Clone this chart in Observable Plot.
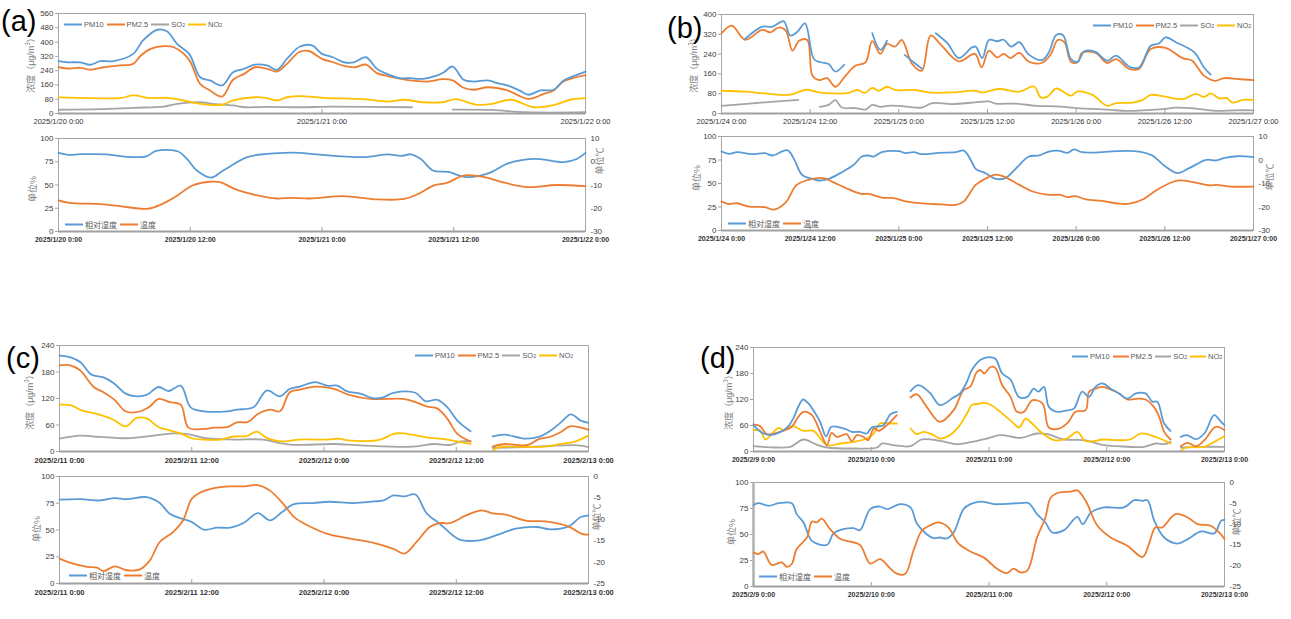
<!DOCTYPE html>
<html><head><meta charset="utf-8">
<script src="https://cdn.jsdelivr.net/npm/d3@7"></script>
<script src="https://cdn.jsdelivr.net/npm/@observablehq/plot@0.6"></script>
<style>
body{margin:0;background:#fff;}
#root{position:relative;width:1291px;height:619px;overflow:hidden;background:#fff;font-family:'Liberation Sans','Noto Sans CJK SC',sans-serif;}
.lg{position:absolute;display:flex;align-items:center;font-size:7.5px;color:#595959;white-space:nowrap;transform:translateY(-50%);}
.lg.cn{font-size:8px;}
.lg .sw{display:inline-block;height:0;border-top:2px solid;margin-right:2px;}
.lg .it{display:flex;align-items:center;margin-right:3px;}
.vt{position:absolute;transform:translate(-50%,-50%) rotate(-90deg);white-space:nowrap;color:#7f7f7f;font-size:9px;line-height:1;}
.pl{position:absolute;font-size:29px;color:#000;line-height:1;}
sub{font-size:0.7em;vertical-align:-0.25em;line-height:0;}
</style></head><body><div id="root"></div><script>
// ---------- data: [hour offset from panel start, value] ; null = gap ----------
// Panel (a) 2025/1/20 0:00 – 2025/1/22 0:00
const a_pm10 = [[0,293],[0.8,287],[2,286],[2.9,273],[3.8,293],[5,293],[6.8,334],[7.7,409],[9,469],[9.9,459],[10.8,390],[11.9,334],[12.9,203],[13.8,185],[14.9,157],[15.9,231],[16.9,250],[17.9,274],[19,269],[19.9,245],[20.8,306],[22,375],[23.1,381],[24,334],[25,315],[26,287],[26.9,286],[28,315],[29,250],[29.9,222],[31.1,198],[32,198],[33.2,194],[34.5,213],[35.1,231],[35.9,263],[36.9,189],[37.8,179],[39.1,185],[40,170],[41.2,151],[42.1,125],[42.8,105],[43.9,129],[45.1,133],[46,185],[46.9,209],[48,235]];
const a_pm25 = [[0,259],[1,252],[2,256],[2.9,245],[4.1,259],[5.6,269],[6.8,278],[7.5,325],[8.4,362],[9.6,377],[10.5,371],[11.4,335],[12,290],[12.9,166],[13.8,129],[14.9,95],[15.9,189],[16.9,222],[17.9,259],[19,250],[19.9,235],[20.8,278],[21.9,343],[22.8,350],[24,306],[25,287],[26.1,265],[27,259],[28,274],[29,226],[30.2,207],[32,185],[33.6,179],[35,192],[35.9,185],[36.9,144],[37.8,133],[39.1,147],[40.9,129],[42.8,82],[44.2,110],[45.1,129],[46,179],[48,215]];
const a_so2 = [[0,21],[3.8,24],[6.8,32],[9.6,39],[10.8,54],[12.9,63],[14.1,54],[15.9,45],[17,35],[19,37],[22,35],[25,38],[32.2,35],[32.3,null],[35.9,22],[39.5,20],[42.6,7],[48,7]];
const a_no2 = [[0,90],[3,86],[5.6,86],[6.8,101],[8.4,86],[9.9,88],[11.1,77],[12.9,54],[14.9,49],[15.9,73],[17.9,91],[19,86],[19.9,73],[20.8,91],[22,97],[24.1,88],[27.8,80],[30,67],[31.5,77],[33.1,63],[35,63],[36.2,80],[38,50],[39.5,54],[41.2,77],[43.3,35],[45.1,47],[46.6,77],[48,86]];
const a_rh = [[0,84.6],[0.9,82.5],[2,83.1],[4.4,83],[6.2,80.3],[8,80.9],[8.9,86.7],[10.9,86],[11.7,78],[12.6,65.6],[13.9,58],[15,65.6],[17.2,80],[19,83.5],[20.5,84.6],[22,84.6],[23.5,83],[27.8,80],[30,83],[31.2,81.3],[32.1,83],[33,78],[34.1,65.6],[35.5,64],[37.2,58.5],[39.2,62.7],[41,73.5],[43.5,78],[46,74.6],[47.2,78],[48,84.6]];
const a_temp = [[0,-16.6],[1,-17.7],[3.8,-18.2],[5.6,-19.1],[7.5,-20.2],[8.4,-20],[9.6,-17.8],[10.8,-14.6],[12.2,-10.2],[13.8,-8.6],[14.7,-8.8],[16.2,-12],[17.7,-14],[19.9,-15.8],[21.1,-15.5],[22.9,-15.8],[25.9,-14.8],[29,-16.2],[31.5,-16],[32.7,-14],[34.2,-10.2],[35.3,-9.2],[37,-5.9],[38.8,-6.6],[40.6,-9],[42.8,-10.9],[45.3,-10],[48,-10.5]];

// Panel (b) 2025/1/24 0:00 – 2025/1/27 0:00
const b_pm10 = [[3.2,301],[5.5,351],[6.9,351],[8.4,373],[9.3,315],[10.2,328],[11.3,364],[12.5,220],[13.4,207],[14.5,200],[15.4,169],[16.6,197],[16.7,null],[20.4,325],[21.5,257],[22.4,294],[22.5,null],[24.8,237],[26,207],[27.1,182],[27.2,null],[29,324],[30.6,283],[32.1,224],[33.9,267],[34.4,270],[35.3,224],[36.2,297],[37.3,292],[38.2,298],[39.2,270],[40.3,288],[41.6,238],[43.4,216],[44.3,247],[45.3,317],[46.2,317],[47.3,220],[48.2,209],[49.1,251],[50.6,249],[52.2,213],[53.4,234],[55.2,189],[56.5,186],[58.1,274],[59.2,283],[60.1,308],[61.5,288],[64,247],[65.3,186],[66.2,157]];
const b_pm25 = [[0,324],[1.4,355],[3.2,298],[5.5,338],[6.6,328],[7.8,348],[8.7,335],[9.6,254],[10.5,294],[11.6,297],[12.3,153],[13.2,135],[14.3,143],[15.4,108],[16.8,153],[18.1,193],[19.5,207],[20.4,292],[21.5,241],[22.4,281],[23.5,270],[24.4,297],[25.8,200],[27.1,173],[28.3,315],[29.8,274],[32.1,211],[34.3,241],[35.2,186],[36.2,254],[37.3,227],[38.2,241],[39.1,224],[40.3,245],[41.6,209],[43.4,205],[44.6,241],[45.5,297],[46.4,288],[47.3,209],[48.2,207],[48.8,245],[50.6,245],[52.2,204],[53.4,220],[55.2,180],[56.5,180],[58.1,261],[60.1,265],[62.4,224],[63.7,213],[65.3,153],[66.8,132],[68,143],[70,139],[72,135]];
const b_so2 = [[0,31],[5.9,45],[10.4,55],[10.5,null],[13.3,27],[14.5,35],[15.4,54],[16.3,24],[18.1,22],[19.5,16],[20.4,35],[21.5,27],[22.4,31],[24,31],[27.1,24],[28.5,42],[31.2,38],[34.3,45],[36.2,49],[37.1,40],[39.9,40],[42.6,31],[45.3,29],[48,22],[52.5,15],[54.8,11],[59.7,18],[61.5,24],[64.2,20],[66.8,11],[69.5,13],[72,13]];
const b_no2 = [[0,92],[3.2,88],[5.9,81],[9.3,76],[11.4,96],[13.2,85],[15,81],[17.2,83],[18.4,95],[19.4,83],[20.4,103],[21.3,92],[22.4,108],[23.5,95],[26.2,95],[28,85],[31.2,85],[34.3,92],[35.3,85],[37.5,99],[40.3,88],[42.3,109],[43.2,65],[44.1,68],[45.3,101],[47.3,72],[48.2,89],[50.2,75],[52.2,31],[53.4,42],[55.6,44],[57,55],[58.1,75],[59.9,69],[62.4,58],[64.2,79],[65.3,67],[66.2,81],[67.4,61],[68.3,63],[69.2,44],[70.5,55],[72,55]];
const b_rh = [[0,84],[1,81.6],[2.1,83.3],[4.1,81.2],[5.9,82.3],[6.9,79.8],[8.9,85.5],[9.8,76.2],[10.9,59.2],[12.3,55],[13.2,53.2],[14.5,55],[16.3,62],[17.9,69.9],[19,78.7],[19.9,79.8],[20.6,78.7],[21.7,83.3],[24,84.4],[24.9,82.3],[26,83.3],[27.1,81.2],[29.4,82.6],[31.7,83.3],[32.8,85],[33.9,72.7],[34.4,65.6],[35.7,61],[37.1,55],[38.4,55.7],[39.8,65.6],[41.6,78.7],[43,79.8],[44.3,84],[45.7,84.8],[46.8,82.6],[47.7,86.2],[48.8,83.3],[51.5,83.3],[53.4,84.4],[56.5,84],[58.3,79.8],[59.9,69.1],[61.7,61],[63.3,66.3],[65.6,75.2],[66.9,74.5],[68.1,77.3],[69.9,79],[72,78]];
const b_temp = [[0,-17.6],[1,-18.8],[2.1,-18.4],[3.7,-19.8],[5.9,-20.1],[7.1,-21.1],[8.7,-18],[10.1,-10.8],[11.5,-8.7],[13.8,-7.7],[15.1,-9.4],[17.1,-12.3],[18.9,-14.4],[19.9,-14.4],[21.7,-16],[23.3,-16.2],[24.9,-17.6],[27.6,-18.6],[29.8,-18.9],[31.7,-19.1],[32.8,-17.6],[34.4,-10.6],[35.7,-8],[37.1,-6.2],[38.4,-7.3],[40.3,-10.6],[42.1,-13.4],[44.3,-14.8],[45.9,-14.8],[46.8,-15.8],[47.9,-15.4],[49.3,-16.8],[51.5,-17.4],[53.8,-18.6],[55.2,-18.6],[57,-16.8],[58.8,-13],[60.4,-10.2],[62,-8.7],[63.8,-9.4],[66.1,-10.8],[67,-10.6],[68.8,-11.3],[72,-11.3]];

// Panel (c) 2025/2/11 0:00 – 2025/2/13 0:00
const c_pm10 = [[0,217],[1,213],[1.9,202],[2.9,174],[4,168],[4.9,155],[6,131],[7,125],[7.9,128],[9,146],[9.9,137],[11,149],[11.9,100],[13.1,91],[15.2,91],[16.1,95],[17.6,100],[18.8,138],[20,125],[20.9,142],[21.8,147],[23.2,157],[24.3,149],[25.2,149],[26.1,136],[27.3,131],[28.4,121],[29.3,122],[30.3,133],[32.3,133],[33.2,114],[34.3,117],[35.2,100],[36.1,70],[37.3,46],[37.4,null],[39.3,34],[40.4,38],[42.3,29],[43.7,35],[44.6,48],[45.5,66],[46.4,84],[47.3,70],[48,65]];
const c_pm25 = [[0,195],[1,195],[1.9,183],[3.1,146],[4,134],[5,117],[6,91],[7,89],[8.1,100],[9,119],[10,112],[11,106],[11.7,54],[13.1,51],[14,54],[15.2,55],[16.1,66],[17.1,67],[18,85],[19.1,95],[20,91],[20.9,134],[21.8,140],[23.2,147],[24.9,142],[26.2,129],[28.2,119],[31.2,119],[32.3,112],[33.3,102],[34.3,97],[35.2,74],[36.1,40],[37.3,23],[37.4,null],[39.3,11],[40.4,17],[41.4,15],[42.5,15],[43.4,27],[44.6,34],[45.5,44],[46.3,57],[47.3,54],[48,49]];
const c_so2 = [[0,29],[1.9,36],[3.7,33],[6.1,30],[8.2,35],[10.3,41],[11.5,40],[13.3,30],[15.8,27],[18.5,27],[20,19],[21.2,15],[24.9,17],[27.3,14],[32.1,11],[34,17],[35.5,15],[36.4,23],[37.3,23],[37.4,null],[39.3,8],[42.5,10],[47,14],[48,10]];
const c_no2 = [[0,106],[1,105],[2,93],[3.4,85],[4.9,72],[6,57],[7,76],[7.9,75],[9,55],[10,48],[11,41],[12,30],[13.1,27],[14.6,27],[15.8,34],[17,35],[17.9,45],[18.8,31],[20,23],[21.8,27],[24.3,27],[25.3,29],[26.2,25],[29.1,27],[30.3,40],[31.2,41],[33.3,32],[35.2,27],[37.3,17],[37.4,null],[39.3,2],[39.9,10],[41.3,11],[44,11],[45.5,17],[46.7,22],[48,36]];
const c_rh = [[0,78.3],[1.9,78.9],[3.7,77.6],[5,79.8],[6.1,78.9],[7.9,80.7],[9.1,75.2],[10,65.2],[11.1,60.6],[12,57.5],[13.1,50.3],[14.3,52.2],[15.5,52.2],[16.7,56.5],[18,65.8],[19.1,59],[20.2,66.8],[21.2,73.9],[23,75.2],[24.5,76.4],[26.7,75.2],[28.5,76.7],[29.4,77.6],[30.3,82.3],[31.3,81.4],[32.3,83.2],[33.3,65.8],[34.5,55.9],[36.3,41],[38.1,40.4],[39.6,45],[41.4,51.2],[43.3,52.8],[44.5,50.6],[46.2,53.4],[47.3,62.1],[48,63.7]];
const c_temp = [[0,-19.2],[1,-20.2],[2.5,-21.1],[3.4,-21.3],[4,-22.1],[5,-21],[6.1,-21.9],[7.3,-21.7],[8.2,-19.6],[9.1,-15.3],[10.3,-13],[11.2,-10.3],[12,-5.2],[12.8,-3.7],[14,-2.7],[15.5,-2.3],[16.8,-2.3],[18,-2],[19.1,-3.3],[20.3,-6.4],[21.3,-9.5],[22.5,-11.4],[24.3,-13.4],[26.4,-14.5],[28.5,-15.5],[30.3,-16.9],[31.3,-18],[32.4,-15.3],[33.6,-11.8],[34.5,-10.9],[35.4,-10.9],[36.9,-9.1],[38.3,-7.9],[39.3,-8.6],[40.5,-8.9],[42.3,-10.3],[44.1,-10.5],[46.2,-11.7],[47.4,-13.4],[48,-13.6]];

// Panel (d) 2025/2/9 0:00 – 2025/2/13 0:00
const d_pm10 = [[0,60.8],[2,41.5],[4.1,39.2],[6.8,55],[8.1,76],[9.2,105],[10.1,120],[11.1,112],[12.2,95],[13.6,68],[14.8,35],[15.9,57],[19,50.8],[20,45.4],[21.7,45.4],[23.1,41.5],[24.1,55.4],[26.5,60.8],[27.9,86],[29.2,91.5],[29.3,null],[32,139],[33.6,153],[36,135],[38,107],[40.8,125],[42.1,134],[43.5,161],[44.5,188],[46.3,212],[48,218],[49.3,214],[50.7,180],[52.4,166],[54.1,126],[55.8,126],[57.1,145],[58.1,138],[59.2,149],[60.2,103],[61.9,91.5],[63.9,95],[65.3,99],[67,138],[68.4,126],[69.7,149],[71.1,157],[72.8,145],[74.5,134],[76.2,122],[77.9,134],[79.9,134],[81.3,115],[82.3,115],[83.7,64.6],[85,47.7],[85.1,null],[87.1,33.8],[88.3,37.7],[90.2,28.5],[91.9,41.5],[93.9,83.8],[95.3,68.4],[96,60.8]];
const d_pm25 = [[0,62.3],[1.4,58.4],[2.7,40],[5.4,45.4],[7.8,57],[9,78],[10.2,91.5],[11.9,84],[13.6,45.4],[15,14.6],[15.9,43],[17,33.8],[19,40],[20,23.8],[21.1,37.7],[22.4,33.8],[23.4,26.1],[24.5,53],[25.5,47.7],[27.2,60.8],[29.2,83.8],[29.3,null],[32,124.6],[33.3,132],[35.3,103],[38,68.4],[40.8,95.4],[42.8,141.5],[44.2,150],[45.5,183],[46.3,188],[47,180],[48.3,195],[49.3,193],[50.7,153],[52.4,126],[53.7,91.5],[55.1,91.5],[56.8,118],[58.9,111],[60.2,55.4],[62.3,53],[64.2,68.4],[65.6,91.5],[67.7,95.4],[68.4,138],[69.7,145],[71.1,149],[72.8,143],[74.5,134],[76.2,120],[78.3,122],[79.9,120],[81.6,103],[82.7,80],[83.7,45.4],[85,27.7],[85.1,null],[87.1,12.3],[88.5,20],[90.2,12.3],[91.9,26.1],[94.2,56.9],[96,49.2]];
const d_so2 = [[0,12.3],[4.8,9.2],[7.5,10.8],[10.2,27.7],[12.6,16.9],[15,9.2],[20.4,6.9],[25.2,9.2],[26.2,18.5],[28.5,14.6],[32,12.3],[34.3,27.7],[38,24.6],[41.4,16.9],[44.5,22.3],[47.6,30],[50.3,37.7],[54.4,31.5],[57.8,41.5],[59.9,40],[63.3,27.7],[67.4,26.1],[71.4,14.6],[74.1,12.3],[79.6,10.8],[82,18.5],[83.7,16.9],[85,22.3],[85.1,null],[87.1,9.2],[91.9,10.8],[96,10.8]];
const d_no2 = [[0,49.2],[1.4,47.7],[2.4,27.7],[5.1,54.6],[6.1,49.2],[7.8,58.4],[10.2,47.7],[12.2,47.7],[15,14.6],[17.7,18.5],[20.4,22.3],[23.1,30],[24.5,41.5],[25.8,64.6],[27.5,64.6],[29.2,64.6],[29.3,null],[32,53],[33.3,40],[34.7,45.4],[36.7,37.7],[38,30],[39.7,35.4],[41.8,56.9],[43.5,87.7],[44.5,107],[46.2,110.7],[46.9,112],[48.3,108],[50.3,91.5],[52.7,68.4],[54.1,55.4],[55.5,76],[56.8,64.6],[58.5,45.4],[61.3,26.1],[63.9,30],[66,45.4],[67.7,23.8],[71.4,27.7],[74.1,26.1],[76.8,27.7],[78.9,41.5],[82.3,32.3],[85,18.5],[85.1,null],[87.1,1],[88.1,9.2],[91.9,10.8],[93.9,22.3],[96,35.4]];
const d_rh = [[0,78.2],[1,80.1],[3.1,77.6],[5.1,80.1],[7.8,80.1],[8.8,69.6],[10.2,61.5],[11.9,43.9],[15,40.1],[16.3,51],[18.3,55.1],[20.4,56.1],[21.7,54.2],[23.8,74.4],[25.8,76.9],[27.2,74.4],[29.9,79.2],[32,76],[33.3,60.6],[35.3,50.3],[36.7,46.5],[38,47.1],[39.4,46.2],[40.8,51.9],[42.8,74.4],[44.2,79.2],[46.3,81.7],[49,79.2],[50.3,79.2],[52.7,79.8],[54.4,80.1],[56.1,80.1],[57.8,69.6],[59.5,61.5],[60.9,51.9],[63.3,54.2],[66,67],[67.1,59.9],[68.8,71.2],[71.4,76],[75.5,76],[77.6,83],[79.3,82.4],[80.3,83],[81.7,63.1],[83.7,47.1],[86.4,41.3],[88.5,45.5],[91.2,52.9],[93.9,51],[95.3,63.1],[96,64.1]];
const d_temp = [[0,-16.8],[1,-17.2],[2,-16.6],[3.7,-19.8],[5.8,-19.2],[6.8,-20.3],[7.8,-19.6],[8.8,-16],[10.9,-13.2],[11.9,-9.4],[12.9,-9.6],[13.9,-8.7],[15.6,-11.2],[17.7,-13.6],[19.7,-14.2],[21.7,-15],[23.8,-19.5],[25.8,-18.4],[27.9,-20.7],[29.2,-21.9],[30.9,-22],[32.6,-16.4],[34.3,-11.6],[36,-10.3],[37.7,-9.6],[39.7,-10.8],[41.8,-14.7],[44.2,-16.6],[46.9,-18],[49.6,-20.7],[51.6,-21.8],[53,-20.7],[54.4,-21.6],[55.8,-21.2],[57.8,-13.2],[59.5,-8.4],[60.6,-3.6],[62.3,-2.4],[64.6,-2.2],[66,-1.9],[67.7,-4.4],[70.1,-10.4],[72.8,-13.2],[76.2,-15.2],[79.3,-17.9],[80.6,-14.8],[81.9,-10.8],[83.3,-10.8],[86,-7.6],[88.5,-8.4],[90.5,-10],[93.2,-10.4],[94.9,-12],[96,-13.6]];

// axis ticks and labels
const yTicksA = [0,80,160,240,320,400,480,560];
const yTicksB = [0,80,160,240,320,400];
const yTicksCD = [0,60,120,180,240];
const rhTicks = [0,25,50,75,100];
const tempTicksAB = [-30,-20,-10,0,10];
const tempTicksCD = [-25,-20,-15,-10,-5,0];
const pollutantNames = ["PM10","PM2.5","SO<sub>2</sub>","NO<sub>2</sub>"];
const meteoNames = ["相对湿度","温度"];
const BLUE="#5b9bd5", ORANGE="#ed7d31", GRAY="#a5a5a5", YELLOW="#ffc000";

// ---------- drawing ----------
const root = document.getElementById("root");
const FONT = "'Liberation Sans','Noto Sans CJK SC',sans-serif";
const fmt = dt => `${dt.getUTCFullYear()}/${dt.getUTCMonth()+1}/${dt.getUTCDate()} ${dt.getUTCHours()}:${String(dt.getUTCMinutes()).padStart(2,"0")}`;

function chart(cfg) {
  const {L,T,W,H,start,hours,step,ydom,yticks,series,right,xFont,xWeight,xPad,thickLeft} = cfg;
  const ml=40, mr=40, mt=6, mb=24;
  const X = h => new Date(start + h*36e5);
  const xt = d3.range(0, hours + 1e-9, step).map(X);
  const span = ydom[1]-ydom[0];
  const marks = [
    Plot.frame({stroke:"#a6a6a6"}),
    Plot.axisY({ticks:yticks, tickSize:3, tickPadding:2, fontSize:8, fill:"#404040", stroke:"#a6a6a6", label:null}),
    Plot.axisX({ticks:xt, tickFormat:fmt, tickSize:0, tickPadding:xPad, fontSize:xFont, fontWeight:xWeight, fill:"#333", label:null})
  ];
  if (thickLeft) marks.push(Plot.ruleX([X(0)], {stroke:"#b0b0b0", strokeWidth:2.5}));
  for (const s of series) {
    marks.push(Plot.line(s.data, {x:d=>X(d[0]), y:d=>d[1]==null?NaN:(s.map?s.map(d[1]):d[1]), stroke:s.color, strokeWidth:1.8, curve:"catmull-rom"}));
  }
  marks.push(Plot.ruleY([ydom[0]], {stroke:"#a0a0a0", strokeWidth:2}));
  marks.push(Plot.ruleX(xt, {x:d=>d, y1:ydom[0], y2:ydom[0]+span*4/H, stroke:"#a0a0a0"}));
  if (right) marks.push(Plot.axisY({anchor:"right", ticks:right.ticks.map(right.map), tickFormat:p=>String(Math.round(right.inv(p))), tickSize:0, tickPadding:5, fontSize:8, fill:"#404040", label:null}));
  const svg = Plot.plot({width:W+ml+mr, height:H+mt+mb, marginLeft:ml, marginRight:mr, marginTop:mt, marginBottom:mb,
    x:{type:"utc", domain:[X(0),X(hours)]}, y:{domain:ydom},
    style:{fontFamily:FONT, background:"transparent", overflow:"visible"}, marks});
  svg.style.position="absolute"; svg.style.left=(L-ml)+"px"; svg.style.top=(T-mt)+"px";
  root.appendChild(svg);
}
function legend(names, colors, x, y, cls="", sw=18) {
  const div = document.createElement("div"); div.className="lg "+cls;
  div.style.left=x+"px"; div.style.top=y+"px";
  div.innerHTML = names.map((n,i)=>`<span class="it"><span class="sw" style="border-color:${colors[i]};width:${sw}px"></span>${n}</span>`).join("");
  root.appendChild(div);
}
function vtext(t, cx, cy) {
  const div = document.createElement("div"); div.className="vt"; div.innerHTML=t;
  div.style.left=cx+"px"; div.style.top=cy+"px"; root.appendChild(div);
}
function letter(t, x, y) {
  const div = document.createElement("div"); div.className="pl"; div.textContent=t;
  div.style.left=x+"px"; div.style.top=y+"px"; root.appendChild(div);
}
const tAB = {map:v=>(v+30)/40*100, inv:p=>-30+p*0.4, ticks:tempTicksAB};
const tCD = {map:v=>(v+25)/25*100, inv:p=>-25+p*0.25, ticks:tempTicksCD};
const pol = (pm10,pm25,so2,no2) => [{data:so2,color:GRAY},{data:no2,color:YELLOW},{data:pm25,color:ORANGE},{data:pm10,color:BLUE}];
const met = (rh,temp,t) => [{data:rh,color:BLUE},{data:temp,color:ORANGE,map:t.map}];

const sA=Date.UTC(2025,0,20), sB=Date.UTC(2025,0,24), sC=Date.UTC(2025,1,11), sD=Date.UTC(2025,1,9);
// (a)
chart({L:58,T:13,W:527,H:100,start:sA,hours:48,step:24,ydom:[0,560],yticks:yTicksA,series:pol(a_pm10,a_pm25,a_so2,a_no2),xFont:7.5,xWeight:"normal",xPad:5});
chart({L:58,T:138,W:527,H:93,start:sA,hours:48,step:12,ydom:[0,100],yticks:rhTicks,series:met(a_rh,a_temp,tAB),right:tAB,xFont:7,xWeight:"bold",xPad:6});
// (b)
chart({L:721,T:14,W:532,H:99,start:sB,hours:72,step:12,ydom:[0,400],yticks:yTicksB,series:pol(b_pm10,b_pm25,b_so2,b_no2),xFont:7.5,xWeight:"normal",xPad:5});
chart({L:721,T:136,W:532,H:94,start:sB,hours:72,step:12,ydom:[0,100],yticks:rhTicks,series:met(b_rh,b_temp,tAB),right:tAB,xFont:7,xWeight:"bold",xPad:6});
// (c)
chart({L:59,T:345,W:529,H:106,start:sC,hours:48,step:12,ydom:[0,240],yticks:yTicksCD,series:pol(c_pm10,c_pm25,c_so2,c_no2),xFont:7.5,xWeight:"bold",xPad:6});
chart({L:59,T:476,W:529,H:107,start:sC,hours:48,step:12,ydom:[0,100],yticks:rhTicks,series:met(c_rh,c_temp,tCD),right:tCD,xFont:7.5,xWeight:"bold",xPad:6});
// (d)
chart({L:753,T:347,W:471,H:104,start:sD,hours:96,step:24,ydom:[0,240],yticks:yTicksCD,series:pol(d_pm10,d_pm25,d_so2,d_no2),xFont:7,xWeight:"bold",xPad:6});
chart({L:753,T:482,W:471,H:104,start:sD,hours:96,step:24,ydom:[0,100],yticks:rhTicks,series:met(d_rh,d_temp,tCD),right:tCD,xFont:7,xWeight:"bold",xPad:6,thickLeft:true});

const pc=[BLUE,ORANGE,GRAY,YELLOW], mc=[BLUE,ORANGE];
legend(pollutantNames,pc,64,24); legend(meteoNames,mc,65,224,"cn");
legend(pollutantNames,pc,1093,25); legend(meteoNames,mc,728,223,"cn");
legend(pollutantNames,pc,415,355); legend(meteoNames,mc,69,575,"cn");
legend(pollutantNames,pc,1072,356,"",16); legend(meteoNames,mc,759,576,"cn");

const conc="浓度（μg/m<sup style='font-size:0.7em'>3</sup>）";
vtext(conc,30,63); vtext("单位%",33,189); vtext("单位℃",600,161);
vtext(conc,693,63); vtext("单位%",697,178); vtext("单位℃",1270,177);
vtext(conc,29,400); vtext("单位%",37,529); vtext("单位℃",597,517);
vtext(conc,728,400); vtext("单位%",732,532); vtext("单位℃",1237,522);

letter("(a)",1,7); letter("(b)",667,14); letter("(c)",6,344); letter("(d)",700,344);
</script></body></html>
